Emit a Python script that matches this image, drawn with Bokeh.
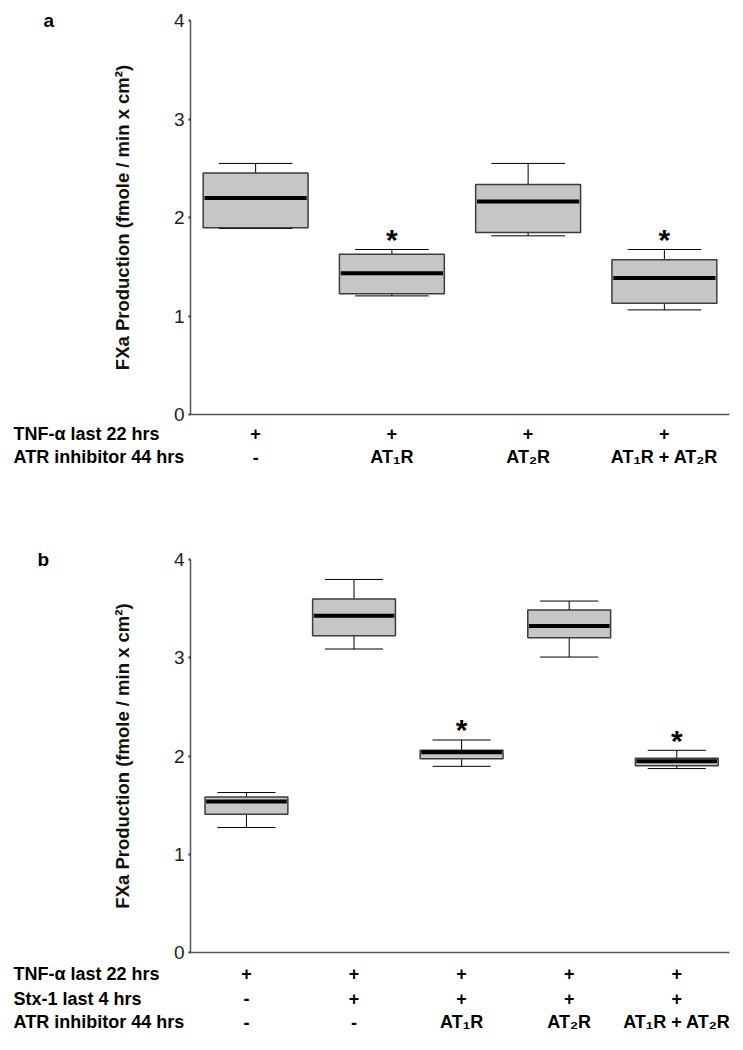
from bokeh.plotting import figure
from bokeh.layouts import column, row
from bokeh.models import FixedTicker, Range1d
from bokeh.embed import file_html
from bokeh.resources import INLINE
from bokeh.core.properties import value

FONT = "Liberation Sans"

# ---------------- Panel a data ----------------
a_groups = [0, 1, 2, 3]
a_low = [1.888, 1.204, 1.814, 1.062]
a_q1 = [1.895, 1.225, 1.848, 1.130]
a_med = [2.197, 1.435, 2.163, 1.387]
a_q3 = [2.451, 1.628, 2.335, 1.570]
a_high = [2.549, 1.675, 2.549, 1.675]
a_sig = [False, True, False, True]
a_row_titles = ["TNF-\u03b1 last 22 hrs", "ATR inhibitor 44 hrs"]
a_rows = [["+", "+", "+", "+"],
          ["-", "AT\u2081R", "AT\u2082R", "AT\u2081R + AT\u2082R"]]

# ---------------- Panel b data ----------------
b_groups = [0, 1, 2, 3, 4]
b_low = [1.272, 3.089, 1.895, 3.007, 1.872]
b_q1 = [1.407, 3.225, 1.973, 3.204, 1.902]
b_med = [1.536, 3.428, 2.038, 3.323, 1.946]
b_q3 = [1.583, 3.597, 2.058, 3.485, 1.977]
b_high = [1.628, 3.797, 2.163, 3.577, 2.058]
b_sig = [False, False, True, False, True]
b_row_titles = ["TNF-\u03b1 last 22 hrs", "Stx-1 last 4 hrs", "ATR inhibitor 44 hrs"]
b_rows = [["+", "+", "+", "+", "+"],
          ["-", "+", "+", "+", "+"],
          ["-", "-", "AT\u2081R", "AT\u2082R", "AT\u2081R + AT\u2082R"]]

y_ticks = [0, 1, 2, 3, 4]
y_label = "FXa Production (fmole / min x cm\u00b2)"

TOTAL_W = 735
LEFT_W = 100          # width of the panel-letter strip
FRAME_L = 190         # page x of the y axis
FRAME_R = 729         # page x of the end of the x axis


def blank(width, height, xr, yr, right=0):
    p = figure(width=width, height=height, output_backend="svg", toolbar_location=None,
               x_range=xr, y_range=yr, x_axis_location=None, y_axis_location=None,
               min_border=0, min_border_left=0, min_border_right=right,
               min_border_top=0, min_border_bottom=0)
    p.outline_line_color = None
    p.grid.visible = False
    return p


def make_panel(letter, groups, low, q1, med, q3, high, sig, row_titles, rows,
               xr, top, frame_h, letter_left, table_h, row_y):
    bottom = 10
    height = top + frame_h + bottom
    yr = Range1d(0, 4)

    # --- letter strip: the panel letter is the only label of a right-hand axis at the top value
    lp = figure(width=LEFT_W, height=height, output_backend="svg", toolbar_location=None,
                x_range=Range1d(0, 1), y_range=yr, x_axis_location=None,
                y_axis_location="right", min_border_left=0,
                min_border_right=LEFT_W - letter_left, min_border_top=top,
                min_border_bottom=bottom)
    lp.outline_line_color = None
    lp.grid.visible = False
    lax = lp.yaxis[0]
    lax.ticker = FixedTicker(ticks=[y_ticks[-1]])
    lax.major_label_overrides = {y_ticks[-1]: letter}
    lax.axis_line_color = None
    lax.major_tick_line_color = None
    lax.minor_tick_line_color = None
    lax.major_tick_out = 0
    lax.major_tick_in = 0
    lax.major_label_standoff = 0
    lax.major_label_text_font = FONT
    lax.major_label_text_font_style = "bold"
    lax.major_label_text_font_size = "19px"
    lax.major_label_text_color = "black"

    # --- box plot
    p = figure(width=TOTAL_W - LEFT_W, height=height, output_backend="svg",
               toolbar_location=None, x_range=Range1d(*xr), y_range=yr,
               min_border_left=FRAME_L - LEFT_W, min_border_right=TOTAL_W - FRAME_R,
               min_border_top=top, min_border_bottom=bottom)
    p.outline_line_color = None
    p.xgrid.visible = False
    p.ygrid.visible = False

    box_w = 0.77
    cap_w = 0.54
    p.segment(x0=groups, x1=groups, y0=q3, y1=high, line_color="black", line_width=1)
    p.segment(x0=groups, x1=groups, y0=low, y1=q1, line_color="black", line_width=1)
    p.segment(x0=[g - cap_w / 2 for g in groups], x1=[g + cap_w / 2 for g in groups],
              y0=high, y1=high, line_color="black", line_width=1)
    p.segment(x0=[g - cap_w / 2 for g in groups], x1=[g + cap_w / 2 for g in groups],
              y0=low, y1=low, line_color="black", line_width=1)
    p.vbar(x=groups, width=box_w, bottom=q1, top=q3, fill_color="#c6c6c6",
           line_color="#3c3c3c", line_width=1.5)
    p.segment(x0=[g - box_w / 2 + 0.01 for g in groups], x1=[g + box_w / 2 - 0.01 for g in groups],
              y0=med, y1=med, line_color="black", line_width=4, line_cap="butt")
    sx = [g for g, s in zip(groups, sig) if s]
    sy = [h for h, s in zip(high, sig) if s]
    p.text(x=sx, y=sy, text=["*"] * len(sx), text_font=value(FONT),
           text_font_style="bold", text_font_size="30px", text_align="center",
           text_baseline="middle", y_offset=-10, text_color="black")

    yax = p.yaxis[0]
    yax.ticker = FixedTicker(ticks=y_ticks)
    yax.major_label_text_font = FONT
    yax.major_label_text_font_size = "19px"
    yax.major_label_text_color = "#222222"
    yax.major_label_standoff = 4
    yax.major_tick_in = 0
    yax.major_tick_out = 2
    yax.major_tick_line_width = 2
    yax.major_tick_line_color = "#333333"
    yax.minor_tick_line_color = None
    yax.axis_line_color = "#555555"
    yax.axis_line_width = 1.5
    yax.axis_label = y_label
    yax.axis_label_text_font = FONT
    yax.axis_label_text_font_style = "bold"
    yax.axis_label_text_font_size = "18.5px"
    yax.axis_label_text_color = "#111111"
    yax.axis_label_standoff = 38

    xax = p.xaxis[0]
    xax.ticker = FixedTicker(ticks=[])
    xax.major_tick_line_color = None
    xax.major_tick_out = 0
    xax.minor_tick_line_color = None
    xax.major_label_standoff = 0
    xax.axis_line_color = "#555555"
    xax.axis_line_width = 1.5

    # --- condition table, aligned with the box plot's x scale (frame spans x 0..FRAME_R)
    ppu = (FRAME_R - FRAME_L) / (xr[1] - xr[0])
    t_start = xr[0] - FRAME_L / ppu
    t_end = xr[1]
    tp = blank(TOTAL_W, table_h, Range1d(t_start, t_end), Range1d(table_h, 0),
               right=TOTAL_W - FRAME_R)
    for r, (title, vals) in enumerate(zip(row_titles, rows)):
        tp.text(x=[t_start], y=[row_y[r]], text=[title], x_offset=13, text_font=value(FONT),
                text_font_style="bold", text_font_size="18px", text_align="left",
                text_baseline="middle", text_color="black")
        tp.text(x=groups, y=[row_y[r]] * len(groups), text=vals, text_font=value(FONT),
                text_font_style="bold", text_font_size="18px", text_align="center",
                text_baseline="middle", text_color="black")
    return column(row(lp, p, spacing=0), tp, spacing=0)


pa = make_panel("a", a_groups, a_low, a_q1, a_med, a_q3, a_high, a_sig, a_row_titles, a_rows,
                (-0.478, 3.478), 20, 394, 43, 76, [9, 32.5])
pb = make_panel("b", b_groups, b_low, b_q1, b_med, b_q3, b_high, b_sig, b_row_titles, b_rows,
                (-0.52, 4.49), 59, 393, 37, 78, [11, 36, 59.5])

layout = column(pa, pb, spacing=0)
open("out.html", "w").write(file_html(layout, INLINE))
